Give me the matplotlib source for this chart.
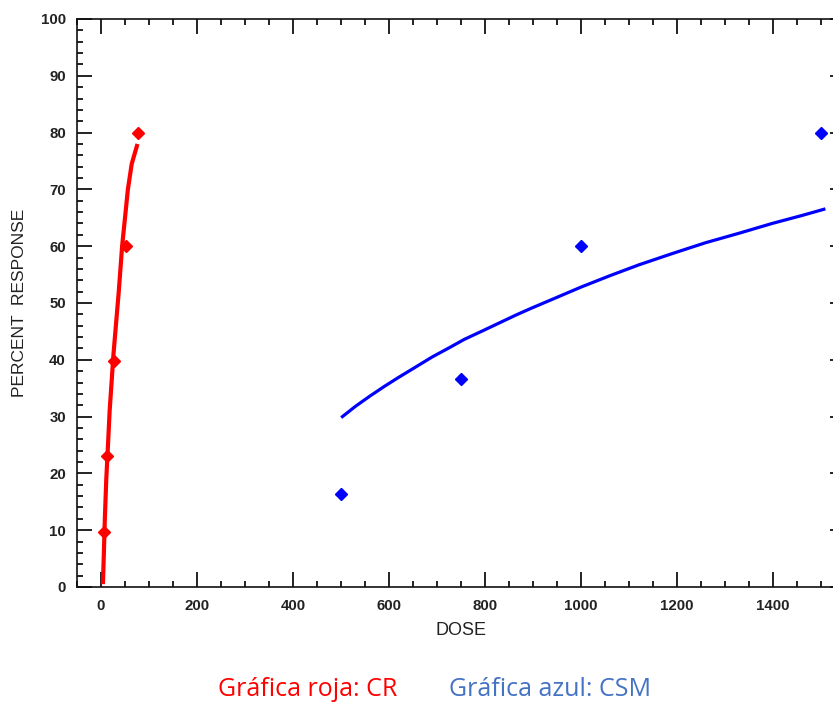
import matplotlib
matplotlib.use('Agg')
import matplotlib.pyplot as plt
from matplotlib.ticker import MultipleLocator

# CR (red) observed points and fitted curve
cr_dose = [7, 13, 28, 53, 78]
cr_resp = [9.6, 23, 39.8, 60, 79.9]
cr_fit_dose = [4, 6, 8, 11, 14, 18, 22, 26, 31, 37, 44, 50, 56, 64, 76]
cr_fit_resp = [0.5, 6, 12, 19, 24, 31, 36, 41, 46, 52, 60, 65, 70, 74.5, 78]

# CSM (blue) observed points and fitted curve
csm_dose = [500, 750, 1000, 1500]
csm_resp = [16.4, 36.6, 60, 80]
csm_fit_dose = [503, 530, 560, 590, 618, 655, 690, 725, 757, 795, 830, 865, 897,
                950, 1000, 1060, 1120, 1190, 1259, 1330, 1398, 1460, 1506]
csm_fit_resp = [30.0, 31.8, 33.6, 35.3, 36.8, 38.7, 40.5, 42.1, 43.6, 45.1, 46.5,
                47.9, 49.1, 51.0, 52.8, 54.8, 56.7, 58.7, 60.6, 62.3, 64.0, 65.4, 66.5]

plt.rcParams['font.family'] = ['Liberation Sans', 'DejaVu Sans']

fig = plt.figure(figsize=(8.33, 7.02), dpi=100)
ax = fig.add_axes([77 / 833, 115 / 702, 768 / 833, 568 / 702])

ax.plot(cr_fit_dose, cr_fit_resp, color='#ff0000', lw=3.0, solid_capstyle='butt')
ax.plot(cr_dose, cr_resp, 'D', color='#ff0000', ms=6.5, mec='#ff0000')
ax.plot(csm_fit_dose, csm_fit_resp, color='#0000ff', lw=2.3)
ax.plot(csm_dose, csm_resp, 'D', color='#0000ff', ms=6.5, mec='#0000ff')

ax.set_xlim(-50, 1550)
ax.set_ylim(0, 100)
ax.xaxis.set_major_locator(MultipleLocator(200))
ax.xaxis.set_minor_locator(MultipleLocator(50))
ax.yaxis.set_major_locator(MultipleLocator(10))
ax.yaxis.set_minor_locator(MultipleLocator(2))
ax.set_xticks(range(0, 1401, 200))

ax.tick_params(which='both', direction='in', top=True, right=True, width=1.3, color='#111111')
ax.tick_params(which='major', length=11)
ax.tick_params(which='minor', length=4)
ax.tick_params(axis='x', pad=9, labelsize=10.8, labelcolor='#222222')
ax.tick_params(axis='y', pad=8, labelsize=10.8, labelcolor='#222222')
for lab in ax.get_xticklabels() + ax.get_yticklabels():
    lab.set_fontweight('bold')

for sp in ax.spines.values():
    sp.set_linewidth(1.2)
    sp.set_color('#111111')

ax.set_xlabel('DOSE', fontsize=13, color='#222222', labelpad=6)
ax.set_ylabel('PERCENT  RESPONSE', fontsize=12.5, color='#222222', labelpad=10)

fig.text(308 / 833, 1 - 690 / 702, 'Gráfica roja: CR', color='#ff0000',
         fontsize=18, ha='center', va='center', family=['Open Sans', 'DejaVu Sans'])
fig.text(550 / 833, 1 - 690 / 702, 'Gráfica azul: CSM', color='#4472c4',
         fontsize=18, ha='center', va='center', family=['Open Sans', 'DejaVu Sans'])

fig.savefig('out.png', dpi=100)
